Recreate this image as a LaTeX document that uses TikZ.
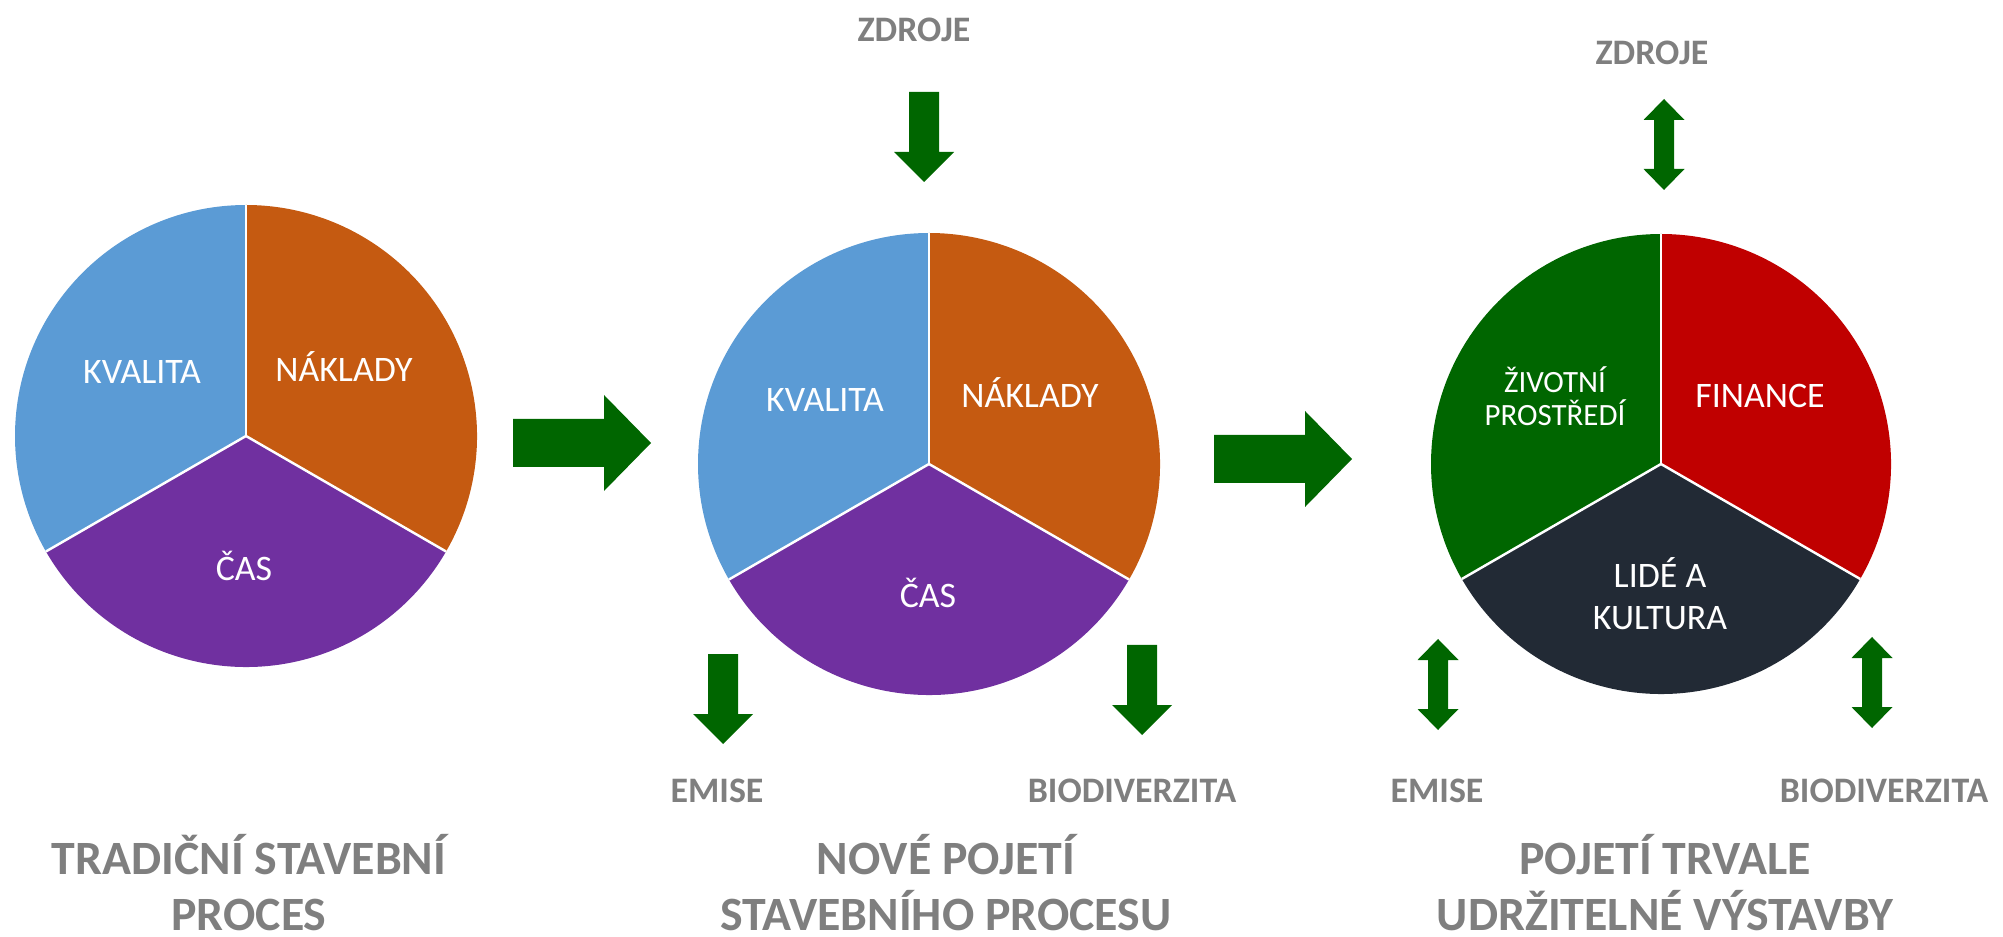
\documentclass[tikz,border=0pt]{standalone}
\usepackage{fontspec}
\setmainfont{Carlito}
\definecolor{kvalita}{HTML}{5B9BD5}
\definecolor{naklady}{HTML}{C55A11}
\definecolor{cas}{HTML}{7030A0}
\definecolor{flowgreen}{HTML}{006600}
\definecolor{finance}{HTML}{C00000}
\definecolor{lide}{HTML}{222A35}
\definecolor{titlegrey}{HTML}{7F7F7F}
\begin{document}
\begin{tikzpicture}[x=0.01cm,y=0.01cm,
		wedgetext/.style={text=white,font=\fontsize{10.2}{11.95}\selectfont,anchor=base,align=center,inner sep=0pt},
		impact/.style={text=titlegrey,font=\bfseries\fontsize{10.2}{12}\selectfont,anchor=base,inner sep=0pt},
		heading/.style={text=titlegrey,font=\bfseries\fontsize{13.6}{15.9}\selectfont,anchor=base,align=center,inner sep=0pt,text depth=0pt},
		divider/.style={white,line width=0.7pt},
		flow/.style={fill=flowgreen}]
	\useasboundingbox (0,0) rectangle (2003,936);
	% tradicni proces
	\coordinate (c1) at (246,500);
	\fill[kvalita] (c1) -- ++(90:231) arc (90:210:231) -- cycle;
	\fill[naklady] (c1) -- ++(-30:231) arc (-30:90:231) -- cycle;
	\fill[cas] (c1) -- ++(210:231) arc (210:330:231) -- cycle;
	\foreach \a in {90,210,330} \draw[divider] (c1) -- ++(\a:231);
	\node[wedgetext] (kvalita1) at (142,552) {KVALITA};
	\node[wedgetext] (naklady1) at (344,554) {NÁKLADY};
	\node[wedgetext] (cas1) at (244,355) {ČAS};
	\node[heading] (title1) at (249,6) {TRADIČNÍ STAVEBNÍ\\PROCES};
	% sipka 1
	\coordinate (go1) at (513,493);
	\fill[flow] (go1) ++(0,24) -- ++(91,0) -- ++(0,24) -- ++(47,-48) -- ++(-47,-48) -- ++(0,24) -- ++(-91,0) -- cycle;
	% nove pojeti
	\coordinate (c2) at (929,472);
	\fill[kvalita] (c2) -- ++(90:231) arc (90:210:231) -- cycle;
	\fill[naklady] (c2) -- ++(-30:231) arc (-30:90:231) -- cycle;
	\fill[cas] (c2) -- ++(210:231) arc (210:330:231) -- cycle;
	\foreach \a in {90,210,330} \draw[divider] (c2) -- ++(\a:231);
	\node[wedgetext] (kvalita2) at (825,524) {KVALITA};
	\node[wedgetext] (naklady2) at (1030,528) {NÁKLADY};
	\node[wedgetext] (cas2) at (928,328) {ČAS};
	\node[impact] (zdroje2) at (914,894) {ZDROJE};
	\node[impact] (emise2) at (717,134) {EMISE};
	\node[impact] (bio2) at (1132,134) {BIODIVERZITA};
	\coordinate (in2) at (924,844);
	\fill[flow] (in2) ++(-15,0) -- ++(30,0) -- ++(0,-60) -- ++(15,0) -- ++(-30,-30) -- ++(-30,30) -- ++(15,0) -- cycle;
	\coordinate (out2a) at (723,282);
	\fill[flow] (out2a) ++(-15,0) -- ++(30,0) -- ++(0,-60) -- ++(15,0) -- ++(-30,-30) -- ++(-30,30) -- ++(15,0) -- cycle;
	\coordinate (out2b) at (1142,291);
	\fill[flow] (out2b) ++(-15,0) -- ++(30,0) -- ++(0,-60) -- ++(15,0) -- ++(-30,-30) -- ++(-30,30) -- ++(15,0) -- cycle;
	\node[heading] (title2) at (946,6) {NOVÉ POJETÍ\\STAVEBNÍHO PROCESU};
	% sipka 2
	\coordinate (go2) at (1214,477);
	\fill[flow] (go2) ++(0,24) -- ++(91,0) -- ++(0,24) -- ++(47,-48) -- ++(-47,-48) -- ++(0,24) -- ++(-91,0) -- cycle;
	% trvale udrzitelna vystavba
	\coordinate (c3) at (1661,472);
	\fill[flowgreen] (c3) -- ++(90:230) arc (90:210:230) -- cycle;
	\fill[finance] (c3) -- ++(-30:230) arc (-30:90:230) -- cycle;
	\fill[lide] (c3) -- ++(210:230) arc (210:330:230) -- cycle;
	\foreach \a in {90,210,330} \draw[divider] (c3) -- ++(\a:230);
	\node[wedgetext,font=\fontsize{8.8}{9.5}\selectfont] (prostredi) at (1555,510) {ŽIVOTNÍ\\PROSTŘEDÍ};
	\node[wedgetext] (finance3) at (1760,528) {FINANCE};
	\node[wedgetext] (lide3) at (1660,306) {LIDÉ A\\KULTURA};
	\node[impact] (zdroje3) at (1652,871) {ZDROJE};
	\node[impact] (emise3) at (1437,134) {EMISE};
	\node[impact] (bio3) at (1884,134) {BIODIVERZITA};
	\coordinate (both3a) at (1664,837);
	\fill[flow] (both3a) -- ++(20.5,-21) -- ++(-10.5,0) -- ++(0,-49) -- ++(10.5,0) -- ++(-20.5,-21) -- ++(-20.5,21) -- ++(10.5,0) -- ++(0,49) -- ++(-10.5,0) -- cycle;
	\coordinate (both3b) at (1438,297);
	\fill[flow] (both3b) -- ++(20.5,-21) -- ++(-10.5,0) -- ++(0,-49) -- ++(10.5,0) -- ++(-20.5,-21) -- ++(-20.5,21) -- ++(10.5,0) -- ++(0,49) -- ++(-10.5,0) -- cycle;
	\coordinate (both3c) at (1872,299);
	\fill[flow] (both3c) -- ++(20.5,-21) -- ++(-10.5,0) -- ++(0,-49) -- ++(10.5,0) -- ++(-20.5,-21) -- ++(-20.5,21) -- ++(10.5,0) -- ++(0,49) -- ++(-10.5,0) -- cycle;
	\node[heading] (title3) at (1665,6) {POJETÍ TRVALE\\UDRŽITELNÉ VÝSTAVBY};
\end{tikzpicture}
\end{document}
